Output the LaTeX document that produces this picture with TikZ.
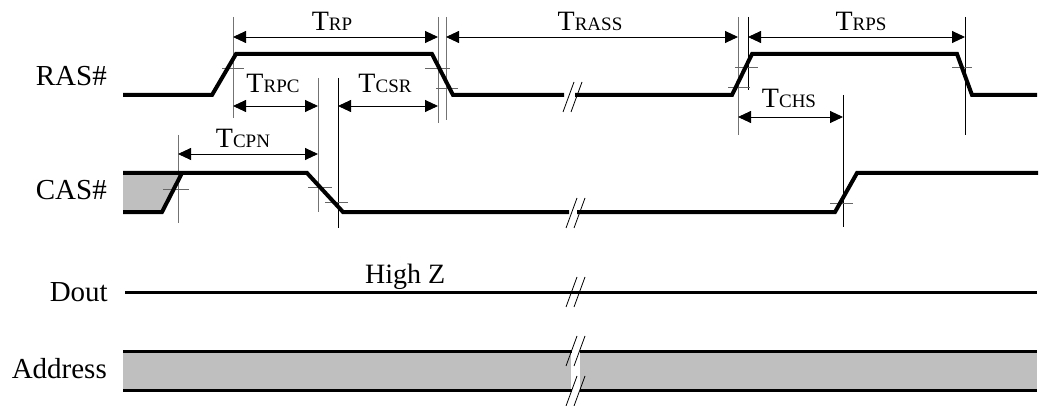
\documentclass[tikz,border=0pt]{standalone}
\usepackage{fontspec}
\setmainfont{Liberation Serif}
\usetikzlibrary{arrows.meta}
\newcommand\tsym[1]{{\fontsize{28}{28}\selectfont T}{\fontsize{19}{19}\selectfont #1}}
\tikzset{
  sig/.style={line width=4pt, line cap=butt, line join=miter},
  sigthin/.style={line width=3pt},
  guide/.style={line width=0.9pt, draw=black!55},
  guideb/.style={line width=0.9pt, draw=black},
  tick/.style={line width=0.9pt, draw=black!60},
  dim/.style={line width=0.9pt, {Triangle[length=13pt,width=12pt]}-{Triangle[length=13pt,width=12pt]}},
  lbl/.style={font=\fontsize{29}{29}\selectfont, inner sep=0pt, anchor=base east},
  tlbl/.style={inner sep=0pt, anchor=base},
  shade/.style={fill=black!25, draw=none},
  brk/.pic={\draw[line width=0.8pt] (-7,15) -- (4,-15) (1,15) -- (12,-15);}
}
\begin{document}
\begin{tikzpicture}[x=1pt,y=-1pt]
\useasboundingbox (0,0) rectangle (1051,406);
% signal names
\node[lbl] (ras) at (107,86) {RAS\#};
\node[lbl] (cas) at (107,200) {CAS\#};
\node[lbl] (dout) at (108,301) {Dout};
\node[lbl] (addr) at (107,378) {Address};
% shaded region of CAS
\fill[shade] (123,173) -- (182,173) -- (162,212) -- (123,212) -- cycle;
% address bus
\fill[shade] (123,351) rectangle (571,390);
\fill[shade] (580,351) rectangle (1037,390);
\draw[sigthin] (123,351) -- (572,351) (580,351) -- (1037,351);
\draw[sigthin] (123,390) -- (572,390) (580,390) -- (1037,390);
% guide lines
\draw[guide] (233,17) -- (233,118);
\draw[guide] (438,17) -- (438,123);
\draw[guide] (446,17) -- (446,120);
\draw[guide] (738,17) -- (738,135);
\draw[guideb] (748,17) -- (748,90);
\draw[guideb] (965,17) -- (965,135);
\draw[guideb] (843,95) -- (843,227);
\draw[guide] (318,78) -- (318,212);
\draw[guideb] (338,78) -- (338,228);
\draw[guide] (178,135) -- (178,223);
% crossing ticks
\draw[tick] (222,68) -- (244,68);
\draw[tick] (425,68) -- (450,68);
\draw[tick] (436,88) -- (458,88);
\draw[tick] (735,67) -- (758,67);
\draw[tick] (728,87) -- (750,87);
\draw[tick] (952,67) -- (972,67);
\draw[tick] (163,189) -- (189,189);
\draw[tick] (308,187) -- (332,187);
\draw[tick] (325,202) -- (348,202);
\draw[tick] (830,203) -- (853,203);
% RAS#
\draw[sig] (123,95) -- (212,95) -- (236,54) -- (432,54) -- (453,95) -- (564,95);
\draw[sig] (575,95) -- (732,95) -- (752,54) -- (957,54) -- (972,95) -- (1037,95);
% CAS#
\draw[sig] (123,173) -- (307,173) -- (343,212) -- (569,212);
\draw[sig] (577,212) -- (835,212) -- (857,173) -- (1038,173);
\draw[sig] (123,212) -- (162,212) -- (182,173);
% Dout
\draw[sigthin] (125,292) -- (1037,292);
\node[tlbl, anchor=base west, font=\fontsize{28}{28}\selectfont] (hz) at (365,283) {High Z};
% breaks
\pic at (570,97) {brk};
\pic at (573,213) {brk};
\pic at (573,292) {brk};
\pic at (573,351) {brk};
\pic at (573,391) {brk};
% dimension arrows
\coordinate (a1) at (233,37); \coordinate (a2) at (438,37);
\coordinate (a3) at (446,37); \coordinate (a4) at (738,37);
\coordinate (a5) at (748,37); \coordinate (a6) at (965,37);
\coordinate (b1) at (233,106); \coordinate (b2) at (318,106);
\coordinate (b3) at (338,106); \coordinate (b4) at (438,106);
\coordinate (c1) at (738,117); \coordinate (c2) at (843,117);
\coordinate (d1) at (178,154); \coordinate (d2) at (318,154);
\draw[dim] (a1) -- (a2);
\draw[dim] (a3) -- (a4);
\draw[dim] (a5) -- (a6);
\draw[dim] (b1) -- (b2);
\draw[dim] (b3) -- (b4);
\draw[dim] (c1) -- (c2);
\draw[dim] (d1) -- (d2);
\node[tlbl] (trp) at (332,31) {\tsym{RP}};
\node[tlbl] (trass) at (590,31) {\tsym{RASS}};
\node[tlbl] (trps) at (861,31) {\tsym{RPS}};
\node[tlbl] (trpc) at (273,93) {\tsym{RPC}};
\node[tlbl] (tcsr) at (385,93) {\tsym{CSR}};
\node[tlbl] (tchs) at (789,108) {\tsym{CHS}};
\node[tlbl] (tcpn) at (243,148) {\tsym{CPN}};
\end{tikzpicture}
\end{document}
